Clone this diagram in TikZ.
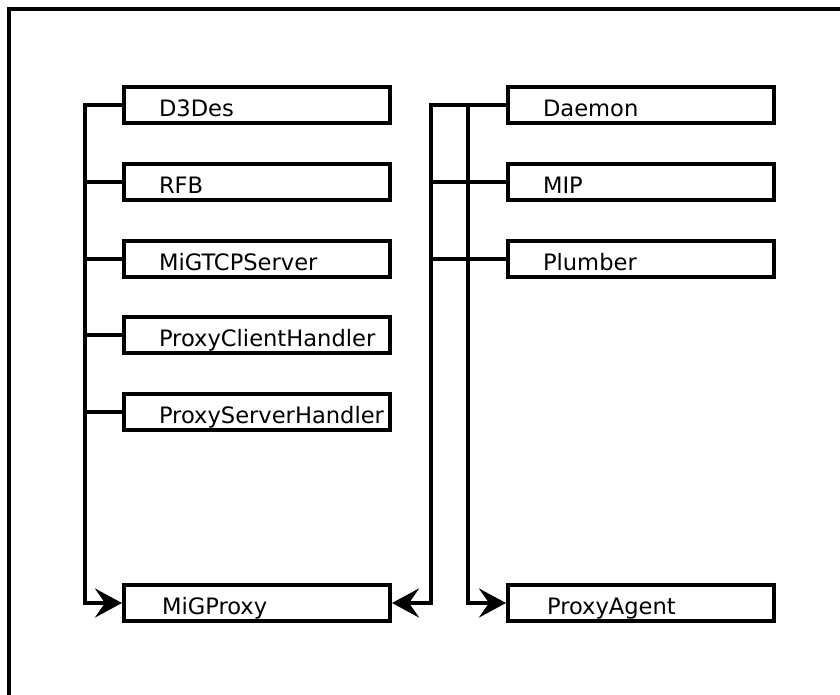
\documentclass[tikz,border=0pt]{standalone}
\usepackage{fontspec}
\setmainfont{DejaVu Sans}
\usetikzlibrary{arrows.meta}
\tikzset{
  box/.style={draw, line width=4pt, rectangle, minimum height=36pt,
    text width=266pt, inner xsep=0pt, inner ysep=0pt,
    text height=23.5pt, text depth=0pt, align=left,
    font=\fontsize{22.6}{26}\selectfont},
  conn/.style={line width=4pt},
  arr/.style={conn, -{Stealth[length=27pt, width=29pt, inset=10pt]}},
  frame/.style={line width=4pt}
}
\begin{document}
\begin{tikzpicture}[x=1pt, y=-1pt]
\useasboundingbox (0,0) rectangle (840,695);
\clip (0,0) rectangle (840,695);
\draw[frame] (9,9) rectangle (900,760);

% left column
\node[box] (d3des)    at (257,105)   {\hspace*{35pt}D3Des};
\node[box] (rfb)      at (257,182)   {\hspace*{35pt}RFB};
\node[box] (migtcp)   at (257,258.5) {\hspace*{35pt}MiGTCPServer};
\node[box] (pch)      at (257,335)   {\hspace*{35pt}ProxyClientHandler};
\node[box] (psh)      at (257,412)   {\hspace*{35pt}ProxyServerHandler};
\node[box] (migproxy) at (257,603)   {\hspace*{38pt}MiGProxy};

% right column
\node[box] (daemon)     at (641,105)   {\hspace*{35pt}Daemon};
\node[box] (mip)        at (641,182)   {\hspace*{35pt}MIP};
\node[box] (plumber)    at (641,258.5) {\hspace*{35pt}Plumber};
\node[box] (proxyagent) at (641,603)   {\hspace*{39pt}ProxyAgent};

% bus coordinates
\coordinate (Ltop) at (85,105);
\coordinate (Lbot) at (85,603);
\coordinate (Rtop) at (431,105);
\coordinate (Rbot) at (431,603);
\coordinate (Itop) at (468,105);
\coordinate (Ibot) at (468,603);

% left bus
\draw[arr] (d3des.west) -- (Ltop) -- (Lbot) -- (migproxy.west);
\draw[conn] (rfb.west) -- (rfb.west -| Ltop);
\draw[conn] (migtcp.west) -- (migtcp.west -| Ltop);
\draw[conn] (pch.west) -- (pch.west -| Ltop);
\draw[conn] (psh.west) -- (psh.west -| Ltop);

% right buses
\draw[arr] (daemon.west) -- (Rtop) -- (Rbot) -- (migproxy.east);
\draw[arr] (Itop) -- (Ibot) -- (proxyagent.west);
\draw[conn] (mip.west) -- (mip.west -| Rtop);
\draw[conn] (plumber.west) -- (plumber.west -| Rtop);
\end{tikzpicture}
\end{document}
